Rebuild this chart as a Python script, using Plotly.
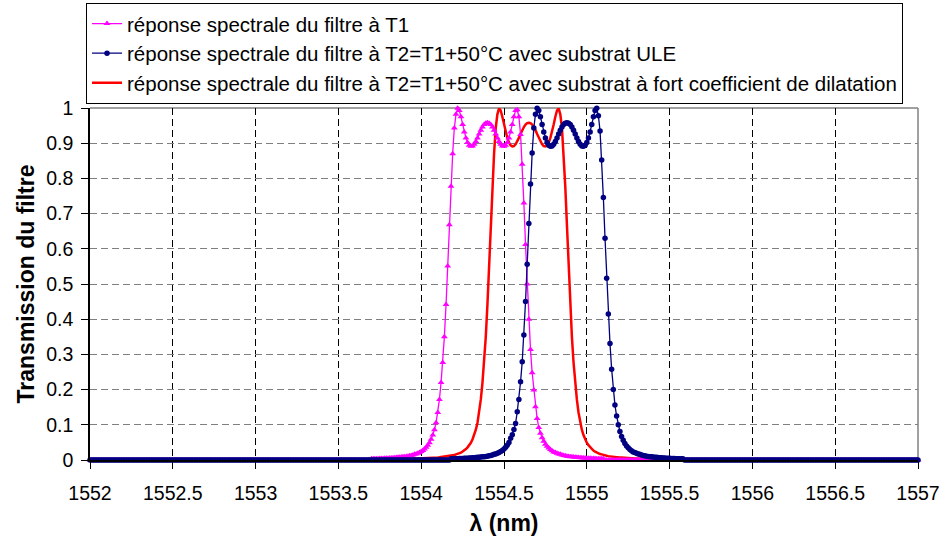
import numpy as np
import plotly.graph_objects as go

# grille en longueur d'onde : pas de 0.01 nm
wl_start, wl_stop, wl_step = 1552.0, 1557.0, 0.01

# réponse à T1 (valeurs lues de 1553.70 à 1555.10 nm, nulles ailleurs)
t1_start = 1553.70
t1_vals = [
    0.0033, 0.0034, 0.0036, 0.0037, 0.0039, 0.0041, 0.0043, 0.0045, 0.0047, 0.0049,
    0.0052, 0.0055, 0.0058, 0.0062, 0.0066, 0.007, 0.0075, 0.008, 0.0085, 0.009,
    0.0095, 0.010, 0.011, 0.012, 0.013, 0.014, 0.016, 0.017, 0.019, 0.021,
    0.024, 0.027, 0.031, 0.036, 0.042, 0.049, 0.059, 0.071, 0.086, 0.106,
    0.135, 0.172, 0.220, 0.277, 0.350, 0.442, 0.551, 0.668, 0.778, 0.870,
    0.943, 0.982, 0.999, 0.993, 0.975, 0.953, 0.932, 0.915, 0.902, 0.894,
    0.891, 0.892, 0.897, 0.905, 0.915, 0.926, 0.937, 0.946, 0.953, 0.957,
    0.958,
    0.957, 0.953, 0.946, 0.937, 0.926, 0.915, 0.905, 0.897, 0.892, 0.891,
    0.894, 0.902, 0.915, 0.932, 0.953, 0.975, 0.993, 0.995, 0.975, 0.925,
    0.840, 0.730, 0.612, 0.500, 0.400, 0.314, 0.248, 0.199, 0.151, 0.118,
    0.092, 0.076, 0.063, 0.053, 0.045, 0.039, 0.034, 0.030, 0.026, 0.023,
    0.021, 0.019, 0.017, 0.016, 0.014, 0.013, 0.012, 0.011, 0.010, 0.0095,
    0.009, 0.0085, 0.008, 0.0075, 0.007, 0.0066, 0.0062, 0.0058, 0.0055, 0.0052,
    0.0049, 0.0047, 0.0045, 0.0043, 0.0041, 0.0039, 0.0037, 0.0036, 0.0034, 0.0033,
]

# réponse à T2 avec substrat ULE (de 1554.18 à 1555.58 nm)
ule_start = 1554.18
ule_vals = [
    0.0033, 0.0034, 0.0036, 0.0037, 0.0039, 0.0041, 0.0043, 0.0045, 0.0047, 0.0049,
    0.0052, 0.0055, 0.0058, 0.0062, 0.0066, 0.007, 0.0075, 0.008, 0.0085, 0.009,
    0.0095, 0.010, 0.011, 0.012, 0.013, 0.014, 0.016, 0.017, 0.019, 0.021,
    0.024, 0.027, 0.031, 0.036, 0.042, 0.050, 0.062, 0.072, 0.087, 0.104,
    0.137, 0.172, 0.222, 0.279, 0.355, 0.450, 0.556, 0.672, 0.784, 0.872,
    0.943, 0.982, 0.999, 0.993, 0.975, 0.953, 0.932, 0.915, 0.902, 0.894,
    0.891, 0.892, 0.897, 0.905, 0.915, 0.926, 0.937, 0.946, 0.953, 0.957,
    0.958,
    0.957, 0.953, 0.946, 0.937, 0.926, 0.915, 0.905, 0.897, 0.892, 0.891,
    0.894, 0.902, 0.915, 0.932, 0.953, 0.975, 0.993, 0.999, 0.978, 0.935,
    0.852, 0.746, 0.630, 0.516, 0.415, 0.331, 0.258, 0.200, 0.156, 0.125,
    0.100, 0.081, 0.067, 0.056, 0.047, 0.040, 0.035, 0.030, 0.026, 0.023,
    0.021, 0.019, 0.017, 0.016, 0.014, 0.013, 0.012, 0.011, 0.010, 0.0095,
    0.009, 0.0085, 0.008, 0.0075, 0.007, 0.0066, 0.0062, 0.0058, 0.0055, 0.0052,
    0.0049, 0.0047, 0.0045, 0.0043, 0.0041, 0.0039, 0.0037, 0.0036, 0.0034, 0.0033,
]

# réponse à T2 avec substrat à fort coefficient de dilatation (de 1553.95 à 1555.35 nm)
dil_start = 1553.95
dil_vals = [
    0.0033, 0.0034, 0.0036, 0.0037, 0.0039, 0.0041, 0.0043, 0.0045, 0.0047, 0.0049,
    0.0052, 0.0055, 0.0058, 0.0062, 0.0066, 0.007, 0.0075, 0.008, 0.0085, 0.009,
    0.0095, 0.010, 0.011, 0.012, 0.013, 0.014, 0.016, 0.017, 0.019, 0.021,
    0.024, 0.027, 0.031, 0.036, 0.042, 0.049, 0.059, 0.071, 0.086, 0.106,
    0.135, 0.172, 0.220, 0.277, 0.350, 0.442, 0.551, 0.668, 0.778, 0.870,
    0.943, 0.982, 0.999, 0.993, 0.975, 0.953, 0.932, 0.915, 0.902, 0.894,
    0.891, 0.892, 0.897, 0.905, 0.915, 0.926, 0.937, 0.946, 0.953, 0.957,
    0.958,
    0.957, 0.953, 0.946, 0.937, 0.926, 0.915, 0.905, 0.897, 0.892, 0.891,
    0.894, 0.902, 0.915, 0.932, 0.953, 0.975, 0.993, 0.999, 0.982, 0.943,
    0.870, 0.778, 0.668, 0.551, 0.442, 0.350, 0.277, 0.220, 0.172, 0.135,
    0.106, 0.086, 0.071, 0.059, 0.049, 0.042, 0.036, 0.031, 0.027, 0.024,
    0.021, 0.019, 0.017, 0.016, 0.014, 0.013, 0.012, 0.011, 0.010, 0.0095,
    0.009, 0.0085, 0.008, 0.0075, 0.007, 0.0066, 0.0062, 0.0058, 0.0055, 0.0052,
    0.0049, 0.0047, 0.0045, 0.0043, 0.0041, 0.0039, 0.0037, 0.0036, 0.0034, 0.0033,
]

names = [
    "réponse spectrale du filtre à T1",
    "réponse spectrale du filtre à T2=T1+50°C avec substrat ULE",
    "réponse spectrale du filtre à T2=T1+50°C avec substrat à fort coefficient de dilatation",
]

n_pts = int(round((wl_stop - wl_start) / wl_step)) + 1
wl = np.round(wl_start + wl_step * np.arange(n_pts), 2)


def full_curve(start, vals):
    # zéro en dehors de la bande lue
    y = np.zeros(n_pts)
    i0 = int(round((start - wl_start) / wl_step))
    y[i0:i0 + len(vals)] = vals
    return y


FONT = "Arial, Liberation Sans, sans-serif"

fig = go.Figure()

# rouge dessiné en premier (sous les autres courbes)
fig.add_trace(go.Scatter(
    x=wl, y=full_curve(dil_start, dil_vals), name=names[2], legendrank=3,
    mode="lines", line=dict(color="#FF0000", width=2.5), cliponaxis=False,
))
fig.add_trace(go.Scatter(
    x=wl, y=full_curve(t1_start, t1_vals), name=names[0], legendrank=1,
    mode="lines+markers", line=dict(color="#FF00FF", width=1.3),
    marker=dict(symbol="triangle-up", size=6, color="#FF00FF"), cliponaxis=False,
))
fig.add_trace(go.Scatter(
    x=wl, y=full_curve(ule_start, ule_vals), name=names[1], legendrank=2,
    mode="lines+markers", line=dict(color="#000080", width=1.3),
    marker=dict(symbol="circle", size=5.5, color="#000080"), cliponaxis=False,
))

# bord gris du cadre (haut et droite)
fig.add_shape(type="line", xref="paper", yref="paper", x0=0, x1=1, y0=1, y1=1,
              line=dict(color="#808080", width=1.5), layer="below")
fig.add_shape(type="line", xref="paper", yref="paper", x0=1, x1=1, y0=0, y1=1,
              line=dict(color="#808080", width=1.5), layer="below")

fig.update_layout(
    width=939, height=541,
    margin=dict(l=90, r=21, t=108, b=81),
    paper_bgcolor="white", plot_bgcolor="white",
    font=dict(family=FONT, size=19.5, color="black"),
    showlegend=True,
    legend=dict(
        x=-0.0048, xanchor="left",
        y=0.995, yref="container", yanchor="top",
        bordercolor="black", borderwidth=1, bgcolor="white",
        font=dict(family=FONT, size=20.5, color="black"),
        tracegroupgap=0, itemwidth=30,
    ),
    xaxis=dict(
        range=[1552, 1557], tick0=1552, dtick=0.5, tickformat=".1~f",
        showgrid=True, gridcolor="black", griddash="7px,4px", gridwidth=1,
        showline=True, linecolor="black", linewidth=1.5,
        ticks="outside", ticklen=7, tickcolor="black", ticklabelstandoff=8,
        ticklabeloverflow="allow",
        zeroline=False, automargin=False,
        title=dict(text="<b>λ (nm)</b>", font=dict(size=23), standoff=12),
    ),
    yaxis=dict(
        range=[0, 1], tick0=0, dtick=0.1,
        showgrid=True, gridcolor="#808080", griddash="7px,4px", gridwidth=1,
        showline=True, linecolor="black", linewidth=1.5,
        ticks="outside", ticklen=7, tickcolor="black", ticklabelstandoff=4,
        zeroline=False, automargin=False,
        title=dict(text="<b>Transmission du filtre</b>", font=dict(size=23), standoff=5),
    ),
)

# pas de marge de page ni de barre d'outils
fig.write_html("out.html", config={"displayModeBar": False},
               post_script="document.body.style.margin='0';")
